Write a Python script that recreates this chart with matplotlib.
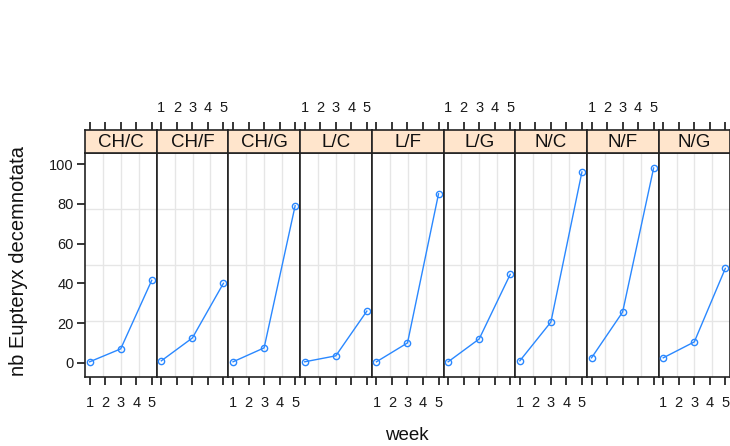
import matplotlib
matplotlib.use("Agg")
import matplotlib.pyplot as plt
import numpy as np

plt.rcParams["font.family"] = ["Liberation Sans", "DejaVu Sans"]

# data (lattice xyplot, one panel per site/treatment)
groups = ["CH/C", "CH/F", "CH/G", "L/C", "L/F", "L/G", "N/C", "N/F", "N/G"]
weeks = [1, 3, 5]
counts = {
    "CH/C": [0.5, 7.0, 41.5],
    "CH/F": [1.0, 12.5, 40.0],
    "CH/G": [0.5, 7.5, 79.0],
    "L/C": [0.5, 3.5, 26.0],
    "L/F": [0.5, 10.0, 85.0],
    "L/G": [0.5, 12.0, 44.5],
    "N/C": [1.0, 20.5, 96.0],
    "N/F": [2.5, 25.5, 98.0],
    "N/G": [2.5, 10.5, 47.5],
}
xticks = [1, 2, 3, 4, 5]
yticks = [0, 20, 40, 60, 80, 100]

XLIM = (0.7, 5.32)
YLIM = (-7.0, 105.4)
LINE = "#2a88ff"
STRIP = "#ffe5cc"
GRID = "#e6e6e6"
EDGE = "#222222"

W, H = 730, 446
fig = plt.figure(figsize=(W / 100, H / 100), dpi=100)

left, pw = 85, 71.7
pbot, ptop = 376.7, 153.3
stop = 130.0


def fx(px):
    return px / W


def fy(py):
    return 1 - py / H


for i, g in enumerate(groups):
    x0 = left + i * pw
    ax = fig.add_axes([fx(x0), fy(pbot), pw / W, (pbot - ptop) / H])
    ax.set_xlim(*XLIM)
    ax.set_ylim(*YLIM)

    # lattice-style grid: 3 equally spaced lines each way
    for k in (1, 2, 3):
        ax.axvline(XLIM[0] + k * (XLIM[1] - XLIM[0]) / 4, color=GRID, lw=1, zorder=0)
        ax.axhline(YLIM[0] + k * (YLIM[1] - YLIM[0]) / 4, color=GRID, lw=1, zorder=0)

    ax.plot(weeks, counts[g], color=LINE, lw=1.0, marker="o", markersize=4.5,
            markerfacecolor="none", markeredgecolor=LINE, markeredgewidth=1.0,
            clip_on=False, zorder=3)

    for s in ax.spines.values():
        s.set_linewidth(1.2)
        s.set_color(EDGE)

    ax.set_xticks(xticks)
    ax.tick_params(axis="x", direction="out", length=6, width=1.1, pad=8,
                   labelsize=10.5, top=False, bottom=True,
                   labelbottom=(i % 2 == 0), labelcolor="#1a1a1a")
    if i == 0:
        ax.set_yticks(yticks)
        ax.tick_params(axis="y", direction="out", length=6, width=1.1, pad=2,
                       labelsize=10.5, labelcolor="#1a1a1a")
    else:
        ax.set_yticks([])

    # strip with the panel name, top ticks drawn above it
    sax = fig.add_axes([fx(x0), fy(ptop), pw / W, (ptop - stop) / H])
    sax.set_facecolor(STRIP)
    sax.set_xlim(*XLIM)
    sax.set_ylim(0, 1)
    sax.set_yticks([])
    sax.set_xticks(xticks)
    sax.xaxis.set_ticks_position("top")
    sax.tick_params(axis="x", direction="out", length=6, width=1.1, pad=5,
                    labelsize=10.5, top=True, bottom=False,
                    labeltop=(i % 2 == 1), labelbottom=False,
                    labelcolor="#1a1a1a")
    for s in sax.spines.values():
        s.set_linewidth(1.2)
        s.set_color(EDGE)
    sax.text(0.5, 0.45, g, transform=sax.transAxes, ha="center", va="center",
             fontsize=13.5, color="#111111")

fig.text(fx(407), fy(436), "week", ha="center", va="center", fontsize=13.5,
         color="#111111")
fig.text(fx(19), fy(261), "nb Eupteryx decemnotata", ha="center", va="center",
         rotation=90, fontsize=14.5, color="#111111")

fig.savefig("out.png", dpi=100)
